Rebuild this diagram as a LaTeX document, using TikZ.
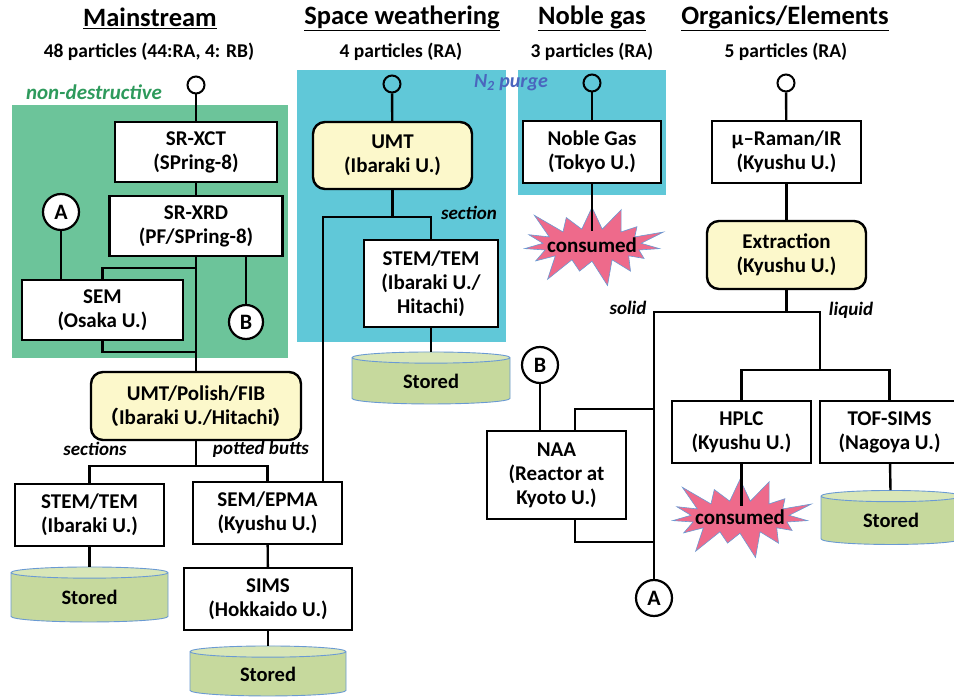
\documentclass[tikz,border=0pt]{standalone}
\usepackage{fontspec}
\setmainfont{Carlito}
\newfontfamily\cjkfont{Noto Sans CJK JP}
\usetikzlibrary{shapes.geometric,shapes.symbols}

\definecolor{ndgreen}{HTML}{6CC49A}
\definecolor{ndtext}{HTML}{2E9A5C}
\definecolor{purgecyan}{HTML}{60C8D8}
\definecolor{purgetext}{HTML}{4A66BE}
\definecolor{umtyellow}{HTML}{FCF8CB}
\definecolor{storegreen}{HTML}{C6D99D}
\definecolor{storetop}{HTML}{D8E6B8}
\definecolor{storeedge}{HTML}{6A9AD3}
\definecolor{burstpink}{HTML}{EE6A8B}

% full-width brackets, trimmed to the glyph
\newcommand{\jlp}{\makebox[11pt][r]{\cjkfont\fontsize{19}{19}\selectfont （}}
\newcommand{\jrp}{\makebox[11pt][l]{\cjkfont\fontsize{19}{19}\selectfont ）}}

\begin{document}
\begin{tikzpicture}[
    x=1pt, y=-1pt,
    box/.style={draw, line width=2.4pt, fill=white, align=center,
                font=\bfseries\fontsize{21}{24}\selectfont, inner sep=0pt},
    umt/.style={box, rounded corners=12pt, fill=umtyellow},
    port/.style={draw, circle, line width=2pt, minimum size=17pt, inner sep=0pt},
    tag/.style={draw, circle, line width=2.2pt, fill=white, minimum size=36pt,
                inner sep=0pt, font=\bfseries\fontsize{22}{22}\selectfont},
    stored/.style={cylinder, shape border rotate=90, aspect=0.2,
                   draw=storeedge, line width=0.9pt, cylinder uses custom fill,
                   cylinder body fill=storegreen, cylinder end fill=storetop,
                   inner sep=0pt, font=\bfseries\fontsize{20.5}{20.5}\selectfont},
    burst/.style={starburst, starburst points=15, starburst point height=30pt,
                  fill=burstpink, draw=storeedge, line width=0.6pt,
                  inner xsep=-10pt, inner ysep=4pt,
                  font=\bfseries\fontsize{21}{21}\selectfont},
    link/.style={line width=2.4pt},
    branch/.style={font=\bfseries\itshape\fontsize{19}{19}\selectfont},
    title/.style={font=\bfseries\fontsize{26.5}{26.5}\selectfont},
    count/.style={font=\bfseries\fontsize{19.5}{19.5}\selectfont},
]
  \useasboundingbox (0,0) rectangle (954,700);
  \clip (0,0) rectangle (954,700);

  % Shaded handling areas
  \fill[ndgreen] (12,105) rectangle (288,358);
  \fill[purgecyan] (297,70) rectangle (506,342);
  \fill[purgecyan] (518,70) rectangle (666,195);
  \node[font=\bfseries\itshape\fontsize{21}{21}\selectfont, text=ndtext]
    (ndlabel) at (94,92) {non-destructive};
  \node[font=\bfseries\itshape\fontsize{20}{20}\selectfont, text=purgetext]
    (purge) at (511,83) {N\textsubscript{2} purge};

  % Column headings
  \node[title] (hMain) at (150,18) {\underline{Mainstream}};
  \node[title] (hSW) at (402,18) {\underline{Space weathering}};
  \node[title] (hNG) at (592,18) {\underline{Noble gas}};
  \node[title] (hOrg) at (785,18) {\underline{Organics/Elements}};
  \node[count] (nMain) at (149,52) {48 particles (44:RA, 4: RB)};
  \node[count] (nSW) at (401,52) {4 particles (RA)};
  \node[count] (nNG) at (592,52) {3 particles (RA)};
  \node[count] (nOrg) at (786,52) {5 particles (RA)};

  % Mainstream
  \node[port] (msIn) at (196,85) {};
  \node[box, minimum width=162pt, minimum height=60pt] (XCT) at (196,152)
    {SR-XCT\\(SPring-8)};
  \node[box, minimum width=173pt, minimum height=60pt] (XRD) at (196,226)
    {SR-XRD\\(PF/SPring-8)};
  \node[box, minimum width=161pt, minimum height=60pt] (SEM) at (102.5,310)
    {SEM\\(Osaka U.)};
  \node[tag] (A1) at (61,212) {A};
  \node[tag, minimum size=34pt] (B1) at (246,322) {B};
  \node[umt, minimum width=210pt, minimum height=68pt] (UMTpol) at (196,406)
    {UMT/Polish/FIB\\\jlp Ibaraki U./Hitachi\jrp};
  \node[box, minimum width=149pt, minimum height=62pt] (STEMms) at (89.5,515)
    {STEM/TEM\\(Ibaraki U.)};
  \node[box, minimum width=149pt, minimum height=62pt] (EPMA) at (267.5,513)
    {SEM/EPMA\\(Kyushu U.)};
  \node[box, minimum width=168pt, minimum height=62pt] (SIMS) at (268,599)
    {SIMS\\(Hokkaido U.)};
  \node[stored, minimum width=157pt, minimum height=55pt] (keepMs) at (89.5,597.5) {Stored};
  \node[stored, minimum width=156pt, minimum height=50pt] (keepSims) at (268,674) {Stored};

  % Space weathering
  \node[port] (swIn) at (392,84) {};
  \node[umt, minimum width=159pt, minimum height=67pt] (UMTsw) at (392.5,155.5)
    {UMT\\(Ibaraki U.)};
  \node[box, minimum width=134pt, minimum height=87pt] (STEMsw) at (431,283.5)
    {STEM/TEM\\(Ibaraki U./\\Hitachi)};
  \node[stored, minimum width=158pt, minimum height=52pt] (keepSw) at (431,381) {Stored};

  % Noble gas
  \node[port] (ngIn) at (592,83) {};
  \node[box, minimum width=138pt, minimum height=62pt] (NG) at (592,152)
    {Noble Gas\\(Tokyo U.)};
  \node[burst] (usedNG) at (592,245) {consumed};

  % Organics / elements
  \node[port] (orgIn) at (786,83) {};
  \node[box, minimum width=149pt, minimum height=62pt] (Raman) at (786.5,152)
    {µ–Raman/IR\\(Kyushu U.)};
  \node[umt, minimum width=159pt, minimum height=68pt] (Extr) at (786.5,255)
    {Extraction\\(Kyushu U.)};
  \node[box, minimum width=139pt, minimum height=88pt] (NAA) at (556.5,475)
    {NAA\\(Reactor at\\Kyoto U.)};
  \node[tag] (B2) at (540,365) {B};
  \node[tag] (A2) at (654,598) {A};
  \node[box, minimum width=139pt, minimum height=62pt] (HPLC) at (741.5,432)
    {HPLC\\(Kyushu U.)};
  \node[box, minimum width=139pt, minimum height=62pt] (TOF) at (889.5,432)
    {TOF-SIMS\\(Nagoya U.)};
  \node[burst] (usedHPLC) at (740,517) {consumed};
  \node[stored, minimum width=140pt, minimum height=54pt] (keepTof) at (891,520.5) {Stored};
  \coordinate (liqFork) at (820,370);

  % Connectors: mainstream
  \draw[link] (msIn) -- (XCT);
  \draw[link] (XCT) -- (XRD);
  \draw[link] (XRD.south) -- (UMTpol.north);
  \draw[link] (A1) -- (A1 |- SEM.north);
  \draw[link] (B1) -- (B1 |- XRD.south);
  \draw[link] (XRD.south) ++(0,11) -| (SEM.north);
  \draw[link] (SEM.south) |- ([yshift=19pt]UMTpol.north);
  \draw[link] (UMTpol.south) -- ++(0,25) coordinate (msFork);
  \draw[link] (STEMms.north) |- (msFork) -| (EPMA.north);
  \node[branch] (lSec) at (95,449) {sections};
  \node[branch] (lPot) at (261,449) {potted butts};
  \draw[link] (STEMms) -- (keepMs);
  \draw[link] (EPMA) -- (SIMS);
  \draw[link] (SIMS) -- (keepSims);

  % Connectors: space weathering
  \draw[link] (swIn) -- (UMTsw);
  \draw[link] (UMTsw.south) -- ++(0,27) coordinate (swFork);
  \draw[link] ([xshift=55.5pt]EPMA.north) |- (swFork) -| (STEMsw.north);
  \node[branch] (lSection) at (469,213) {section};
  \draw[link] (STEMsw) -- (keepSw);

  % Connectors: noble gas
  \draw[link] (ngIn) -- (NG);
  \draw[link] (NG.south) -- ++(0,47);

  % Connectors: organics / elements
  \draw[link] (orgIn) -- (Raman);
  \draw[link] (Raman) -- (Extr);
  \draw[link] (Extr.south) -- ++(0,22) coordinate (orgFork);
  \draw[link] (A2) |- (orgFork) -| (liqFork);
  \draw[link] (HPLC.north) |- (liqFork) -| (TOF.north);
  \node[branch] (lSolid) at (628,308) {solid};
  \node[branch] (lLiquid) at (851,310) {liquid};
  \draw[link] (B2) -- (B2 |- NAA.north);
  \draw[link] ([xshift=18.5pt]NAA.north) -- ++(0,-21) -- ++(79,0);
  \draw[link] ([xshift=18.5pt]NAA.south) -- ++(0,22) -- ++(79,0);
  \draw[link] (HPLC.south) -- ++(0,42);
  \draw[link] (TOF) -- (keepTof);
\end{tikzpicture}
\end{document}
